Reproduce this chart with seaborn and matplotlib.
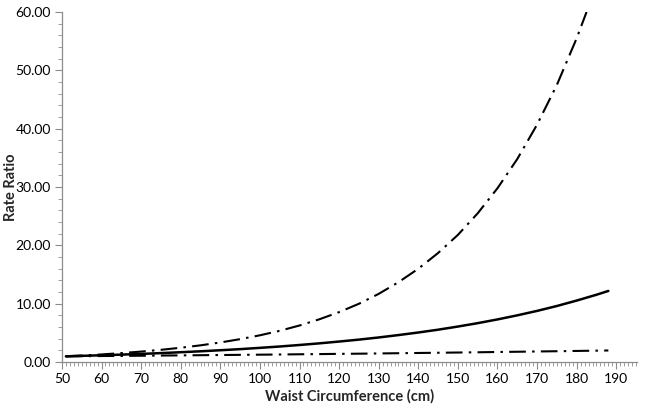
"""Rate ratio by waist circumference."""
import matplotlib
matplotlib.use("Agg")
import matplotlib.pyplot as plt
import seaborn as sns
from matplotlib.ticker import MultipleLocator, FormatStrFormatter

# waist circumference (cm)
waist = [51, 55, 60, 65, 70, 75, 80, 85, 90, 95, 100, 105, 110, 115, 120,
         125, 130, 135, 140, 145, 150, 155, 160, 165, 170, 175, 180, 185, 188]
waist_upper = [51, 55, 60, 65, 70, 75, 80, 85, 90, 95, 100, 105, 110, 115, 120,
               125, 130, 135, 140, 145, 150, 155, 160, 165, 170, 175, 180, 182.5]

rr_estimate = [1.00, 1.08, 1.18, 1.29, 1.41, 1.55, 1.70, 1.86, 2.04, 2.23, 2.45,
               2.68, 2.94, 3.22, 3.53, 3.86, 4.23, 4.64, 5.08, 5.56, 6.10, 6.68,
               7.32, 8.02, 8.78, 9.62, 10.55, 11.55, 12.20]
rr_lower = [1.00, 1.02, 1.05, 1.07, 1.10, 1.13, 1.16, 1.19, 1.22, 1.25, 1.28,
            1.31, 1.35, 1.38, 1.42, 1.45, 1.49, 1.53, 1.57, 1.61, 1.65, 1.69,
            1.74, 1.78, 1.83, 1.87, 1.92, 1.97, 2.00]
rr_upper = [1.00, 1.13, 1.32, 1.55, 1.81, 2.11, 2.47, 2.88, 3.37, 3.94, 4.60,
            5.37, 6.28, 7.34, 8.57, 10.0, 11.7, 13.7, 16.0, 18.7, 21.8, 25.5,
            29.8, 34.8, 40.7, 47.5, 55.5, 60.0]


def main():
    sns.set_style("ticks")
    plt.rcParams["font.family"] = ["Lato", "DejaVu Sans"]

    fig = plt.figure(figsize=(6.45, 4.12), dpi=100)
    ax = fig.add_axes([0.096, 0.121, 0.892, 0.850])

    dashdot = (0, (8, 3, 1.2, 3))
    sns.lineplot(x=waist_upper, y=rr_upper, ax=ax, color="black", lw=1.5,
                 linestyle=dashdot)
    sns.lineplot(x=waist, y=rr_lower, ax=ax, color="black", lw=1.5,
                 linestyle=dashdot)
    sns.lineplot(x=waist, y=rr_estimate, ax=ax, color="black", lw=1.8)

    ax.set_xlim(50, 195.3)
    ax.set_ylim(0, 60)
    ax.xaxis.set_major_locator(MultipleLocator(10))
    ax.xaxis.set_minor_locator(MultipleLocator(1))
    ax.yaxis.set_major_locator(MultipleLocator(10))
    ax.yaxis.set_minor_locator(MultipleLocator(2))
    ax.yaxis.set_major_formatter(FormatStrFormatter("%.2f"))

    sns.despine(ax=ax)
    for side in ("left", "bottom"):
        ax.spines[side].set_color("#8c8c8c")
        ax.spines[side].set_linewidth(0.9)
    ax.tick_params(which="major", length=5, width=0.8, color="#8c8c8c",
                   labelsize=10, labelcolor="black", pad=3)
    ax.tick_params(which="minor", length=3, width=0.6, color="#8c8c8c")

    ax.set_xlabel("Waist Circumference (cm)", fontsize=10.5, fontweight="bold")
    ax.set_ylabel("Rate Ratio", fontsize=10.5, fontweight="bold")
    ax.xaxis.set_label_coords(0.5, -0.077)
    ax.yaxis.set_label_coords(-0.077, 0.5)

    fig.savefig("out.png", dpi=100)
    plt.close(fig)


if __name__ == "__main__":
    main()
